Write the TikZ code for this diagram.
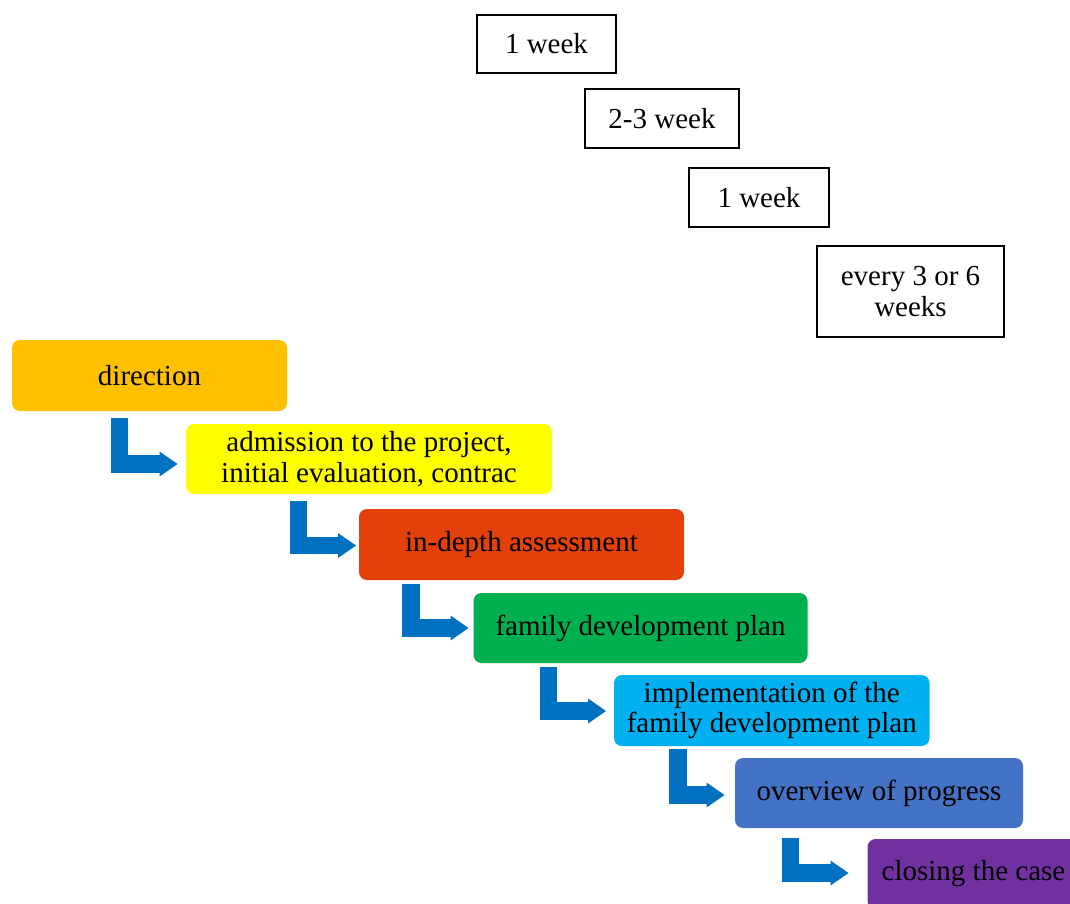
\documentclass[tikz,border=0pt]{standalone}
\usepackage{fontspec}
\setmainfont{Liberation Serif}
\usetikzlibrary{calc}
\definecolor{cdir}{HTML}{FFC000}
\definecolor{cadm}{HTML}{FFFF00}
\definecolor{cind}{HTML}{E4400B}
\definecolor{cfam}{HTML}{00B050}
\definecolor{cimp}{HTML}{00B0F0}
\definecolor{covr}{HTML}{4472C4}
\definecolor{ccls}{HTML}{7030A0}
\definecolor{arrowblue}{HTML}{0070C0}
\tikzset{
  stage/.style={rounded corners=8pt, inner sep=0pt, outer sep=0pt, align=center,
    font=\fontsize{29}{30.5}\selectfont, text=black},
  dur/.style={draw=black, line width=1.2pt, fill=white, inner sep=0pt, outer sep=0pt,
    align=center, font=\fontsize{29}{30.5}\selectfont, text=black},
  shaft/.style={draw=arrowblue, line width=17.5pt},
  head/.style={fill=arrowblue}
}
\newcommand\bentarr[2]{%
  \draw[shaft] (#1) |- ($(#2)+(-17.5,0)$);
  \fill[head] (#2) -- ++(-18,-12.5) -- ++(0,25) -- cycle;}
\begin{document}
\begin{tikzpicture}[x=1pt,y=-1pt]
\useasboundingbox (0,0) rectangle (1070,903);
\clip (0,0) rectangle (1070,903);

% duration boxes
\node[dur, minimum width=139pt, minimum height=58pt] (w1) at (546.5,44) {1 week};
\node[dur, minimum width=154pt, minimum height=59pt] (w2) at (662,118.5) {2-3 week};
\node[dur, minimum width=140pt, minimum height=59pt] (w3) at (759,197.5) {1 week};
\node[dur, minimum width=187pt, minimum height=91pt] (w4) at (910.5,291.5) {every 3 or 6\\weeks};

% stages
\node[stage, fill=cdir, minimum width=275pt, minimum height=71pt] (dir) at (149.5,375.5) {direction};
\node[stage, fill=cadm, minimum width=366pt, minimum height=70pt] (adm) at (369,459) {admission to the project,\\initial evaluation, contrac};
\node[stage, fill=cind, minimum width=325pt, minimum height=71pt] (ind) at (521.5,544.5) {in-depth assessment};
\node[stage, fill=cfam, minimum width=334pt, minimum height=70pt] (fam) at (640.5,628) {family development plan};
\node[stage, fill=cimp, minimum width=315.5pt, minimum height=71pt] (imp) at (771.75,710.5) {implementation of the\\family development plan};
\node[stage, fill=covr, minimum width=288pt, minimum height=70pt] (ovr) at (879,793) {overview of progress};
\node[stage, fill=ccls, minimum width=212pt, minimum height=70pt] (cls) at (973.5,874) {closing the case};

% bent arrows
\coordinate (s1) at ($(dir.south west)+(107.5,7)$);
\coordinate (t1) at ($(adm.west)+(-8.5,5)$);
\coordinate (s2) at ($(adm.south west)+(112.5,7)$);
\coordinate (t2) at ($(ind.west)+(-3,1)$);
\coordinate (s3) at ($(ind.south west)+(52,4)$);
\coordinate (t3) at ($(fam.west)+(-5,0)$);
\coordinate (s4) at ($(fam.south west)+(75,4)$);
\coordinate (t4) at ($(imp.west)+(-8,0.5)$);
\coordinate (s5) at ($(imp.south west)+(64,3)$);
\coordinate (t5) at ($(ovr.west)+(-10.5,2)$);
\coordinate (s6) at ($(ovr.south west)+(55.5,10)$);
\coordinate (t6) at ($(cls.west)+(-19,-1)$);
\bentarr{s1}{t1}
\bentarr{s2}{t2}
\bentarr{s3}{t3}
\bentarr{s4}{t4}
\bentarr{s5}{t5}
\bentarr{s6}{t6}
\end{tikzpicture}
\end{document}
